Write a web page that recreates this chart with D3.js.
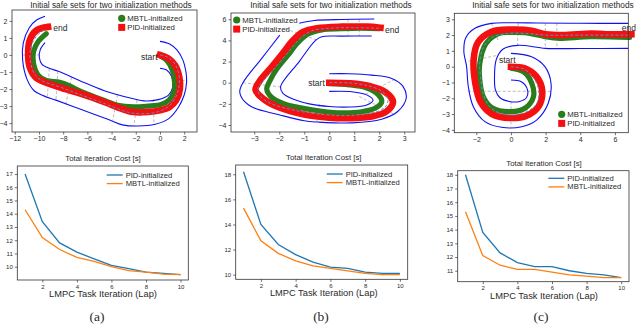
<!DOCTYPE html>
<meta charset="utf-8">
<style>
body { margin: 0; background: #fff; }
text { font-family: "Liberation Sans", Arial, sans-serif; fill: #2a2a2a; }
.cap { font-family: "Liberation Serif", "Times New Roman", serif; }
</style>
<body>
<script src="https://d3js.org/d3.v7.min.js"></script>
<script>

// ---------- track panels (data units) ----------
var aOuter = [[0,0.8],[0.8,0.65],[1.4,0.3],[1.9,-0.3],[2.15,-1.0],[2.2,-1.6],[2.0,-2.35],[1.5,-3.1],[0.7,-3.75],[-0.4,-4.07],[-1.8,-4.17],[-3.1,-4.1],[-4.2,-3.8],[-6.5,-3.2],[-8.6,-2.65],[-9.6,-2.4],[-10.4,-2.1],[-11.0,-1.4],[-11.35,-0.3],[-11.3,0.7],[-10.8,1.6],[-10.2,2.05],[-9.5,2.27]];
var aInner = [[0,-0.78],[0.55,-0.88],[0.95,-1.25],[1.08,-1.8],[0.7,-2.35],[-0.15,-2.62],[-1.2,-2.7],[-2.3,-2.55],[-3.5,-2.33],[-4.6,-2.1],[-6.5,-1.55],[-8.4,-0.95],[-9.1,-0.8],[-9.75,-0.55],[-9.97,-0.15],[-9.9,0.3],[-9.5,0.72]];
var aCenter = [[0,0],[0.7,-0.15],[1.25,-0.55],[1.55,-1.1],[1.6,-1.7],[1.35,-2.4],[0.75,-3.0],[-0.25,-3.35],[-1.5,-3.45],[-2.7,-3.35],[-3.85,-3.05],[-6.5,-2.35],[-8.6,-1.8],[-9.5,-1.6],[-10.3,-1.2],[-10.7,-0.4],[-10.65,0.5],[-10.15,1.15],[-9.5,1.5]];
var aPid = [[0,0],[0.7,-0.2],[1.25,-0.6],[1.6,-1.3],[1.65,-2.0],[1.35,-2.65],[0.8,-3.05],[0,-3.25],[-1,-3.35],[-2.2,-3.35],[-3.2,-3.15],[-4.1,-2.9],[-5.2,-2.6],[-6.9,-2.2],[-8.5,-1.85],[-9.5,-1.6],[-10.3,-1.3],[-10.75,-0.75],[-10.9,0],[-10.75,0.9],[-10.2,1.45],[-9.25,1.65]];
var aMbtl = [[0,-0.05],[0.6,-0.35],[1.0,-0.85],[1.2,-1.5],[1.15,-2.15],[0.75,-2.65],[0.1,-2.9],[-1,-3.0],[-2.2,-3.05],[-3.5,-2.95],[-4.5,-2.7],[-6.5,-2.15],[-7.5,-1.8],[-8.3,-1.6],[-9.4,-1.5],[-10.05,-1.2],[-10.45,-0.5],[-10.45,0.2],[-10.05,0.8],[-9.4,1.25]];
var aCross = [[[-11.4,0],[-9.95,0]],[[0.95,-1.5],[2.2,-1.5]],[[-9.15,-0.8],[-9.3,-2.4]],[[-8.45,-0.95],[-8.6,-2.65]],[[-7.3,-1.3],[-7.8,-2.95]],[[-3.5,-2.33],[-3.9,-3.85]],[[-1.9,-2.65],[-2.15,-4.15]],[[-0.55,-2.6],[-0.5,-4.05]]];
var aText = { start: [-1.57,-0.3], end: [-8.82,1.4] };

var bOuter1 = [[0,0.85],[0.8,0.85],[1.7,0.72],[2.5,0.4],[2.95,-0.35],[3.08,-1.45],[2.75,-2.7],[2.1,-3.45],[0.9,-3.8],[-0.45,-3.72],[-1.0,-3.6],[-2.05,-3.0],[-3.0,-2.4],[-3.4,-1.75],[-3.58,-0.85],[-3.45,0],[-2.7,2.3],[-1.98,4.5]];
var bOuter2 = [[-1.2,5.62],[-0.6,5.88],[0.5,5.98],[1.8,6.02]];
var bInner = [[0,-0.82],[0.9,-0.85],[1.5,-1.15],[1.75,-1.65],[1.5,-2.1],[0.8,-2.3],[0,-2.25],[-0.8,-2.0],[-1.45,-1.55],[-1.85,-1.0],[-1.95,-0.4],[-1.2,2.0],[-0.55,4.0],[-0.3,4.35],[0.5,4.4],[1.7,4.42]];
var bCenter = [[0,0],[0.8,-0.02],[1.5,-0.25],[2.1,-0.8],[2.35,-1.6],[2.2,-2.4],[1.6,-2.9],[0.8,-3.1],[0,-3.05],[-0.8,-2.85],[-1.6,-2.5],[-2.3,-2.0],[-2.75,-1.3],[-2.85,-0.5],[-2.6,0.3],[-2.1,1.6],[-1.6,3.0],[-1.15,4.2],[-0.7,4.9],[0,5.15],[1,5.2],[2,5.15]];
var bPid = [[0,0],[0.8,-0.05],[1.6,-0.3],[2.25,-0.9],[2.55,-1.8],[2.3,-2.7],[1.7,-3.2],[0.8,-3.35],[0,-3.3],[-1.0,-3.0],[-2.0,-2.35],[-2.65,-1.5],[-2.95,-0.7],[-2.8,0.1],[-2.3,1.5],[-1.85,2.8],[-1.45,4.0],[-1.05,4.8],[-0.5,5.15],[0.5,5.3],[1.5,5.3],[2.05,5.2]];
var bMbtl = [[0,-0.1],[0.8,-0.2],[1.5,-0.5],[1.95,-1.1],[2.1,-1.8],[1.85,-2.4],[1.3,-2.75],[0.5,-2.85],[-0.3,-2.7],[-1.2,-2.35],[-1.8,-2.0],[-2.3,-1.4],[-2.5,-0.6],[-2.35,0.3],[-2.1,1.3],[-1.65,2.6],[-1.25,3.8],[-0.85,4.6],[-0.3,5.0],[0.5,5.1],[1.3,5.15],[2.0,5.1]];
var bCross = [[[-1.75,5.1],[-0.45,4.0]],[[0.75,6.0],[0.75,4.4]],[[1.2,6.0],[1.2,4.42]],[[-3.45,0.0],[-1.95,-0.4]],[[-0.5,-3.7],[-0.4,-2.0]],[[1.2,-1.3],[2.65,-3.05]],[[1.45,-1.1],[2.6,0.3]]];
var bText = { start: [-0.84,-0.31], end: [2.23,4.7] };

var cOuter = [[0,0.84],[1.19,0.63],[1.96,0],[2.31,-1.05],[2.15,-2.32],[1.48,-3.38],[0.62,-3.8],[-0.54,-3.84],[-1.5,-3.48],[-2.17,-2.53],[-2.46,-1.27],[-2.56,0],[-2.72,1.0],[-2.6,1.85],[-2.08,2.43],[-1.12,2.74],[0,2.78],[1.5,2.77],[4,2.75],[6.77,2.74]];
var cInner = [[0,-0.84],[0.6,-0.95],[0.95,-1.45],[0.9,-1.95],[0.5,-2.2],[-0.1,-2.2],[-0.65,-1.95],[-0.9,-1.45],[-0.95,-0.7],[-0.85,0.45],[-0.45,1.12],[0.4,1.35],[2,1.16],[4,1.15],[6.77,1.16]];
var cCenter = [[0,0],[0.75,-0.15],[1.3,-0.7],[1.6,-1.5],[1.5,-2.3],[1.0,-2.8],[0.2,-3.05],[-0.6,-2.95],[-1.25,-2.5],[-1.6,-1.7],[-1.75,-0.7],[-1.8,0.3],[-1.6,1.2],[-1.1,1.85],[-0.2,2.1],[1.0,2.1],[2,2.0],[4,2.0],[6.8,2.0]];
var cPid = [[0,0],[0.8,-0.1],[1.45,-0.6],[1.8,-1.5],[1.6,-2.5],[0.9,-3.1],[0,-3.25],[-1.1,-3.0],[-1.75,-2.25],[-2.05,-1.1],[-2.15,0.5],[-1.9,1.55],[-1.15,2.2],[0,2.35],[1.2,2.28],[2,2.05],[3,2.0],[4.65,2.1],[5.5,2.05],[6.95,2.05]];
var cMbtl = [[0,-0.1],[0.75,-0.35],[1.2,-1.05],[1.3,-1.9],[0.85,-2.6],[0,-2.85],[-1.1,-2.6],[-1.6,-1.9],[-1.8,-0.85],[-1.8,0.2],[-1.45,1.45],[-0.75,2.08],[0,2.17],[0.8,2.15],[2,1.9],[2.7,1.8],[4.6,1.9],[6.85,1.85]];
var cCross = [[[-2.5,-1.56],[2.35,-1.56]],[[0,-2.2],[0,-3.84]],[[1.98,2.76],[1.98,1.16]],[[2.65,2.75],[2.65,1.15]],[[-1.12,2.74],[-0.72,1.6]],[[-2.45,0.35],[-0.85,0.7]],[[0.42,2.77],[0.38,1.35]]];
var cText = { start: [-0.69,0.23], end: [6.39,2.26] };

// ---------- iteration cost panels ----------
var laps = [1,2,3,4,5,6,7,8,9,10];
var aPidCost  = [17.0,13.4,11.8,11.1,10.6,10.1,9.85,9.6,9.5,9.4];
var aMbtlCost = [14.3,12.2,11.3,10.7,10.4,10.0,9.7,9.6,9.45,9.4];
var bPidCost  = [18.2,14.0,12.4,11.6,11.0,10.6,10.5,10.2,10.1,10.1];
var bMbtlCost = [15.3,12.7,11.7,11.1,10.7,10.5,10.3,10.1,10.0,10.0];
var cPidCost  = [18.0,13.8,12.3,11.6,11.3,11.3,11.0,10.8,10.7,10.5];
var cMbtlCost = [15.3,12.1,11.4,11.1,11.1,10.9,10.7,10.6,10.5,10.5];

var trackTitle = "Initial safe sets for two initialization methods";
var costTitle = "Total Iteration Cost [s]";
var costXLabel = "LMPC Task Iteration (Lap)";
var legendTrack = ["MBTL-initialized", "PID-initialized"];
var legendCost = ["PID-initialized", "MBTL-initialized"];
var captions = ["(a)", "(b)", "(c)"];

var svg = d3.select("body").append("svg")
    .attr("width", 640)
    .attr("height", 325);

function frame(g, l, r, t, b) {
  g.append("rect")
      .attr("x", l).attr("y", t)
      .attr("width", r - l).attr("height", b - t)
      .attr("fill", "none")
      .attr("stroke", "#333")
      .attr("stroke-width", 0.8);
}

function styleAxis(ax, fs) {
  ax.select(".domain").remove();
  ax.selectAll(".tick line").attr("stroke", "#333").attr("stroke-width", 0.7);
  ax.selectAll(".tick text").attr("font-size", fs).attr("fill", "#2a2a2a");
}

function trackPanel(o) {
  var x = d3.scaleLinear().domain(o.xd).range([o.l, o.r]);
  var y = d3.scaleLinear().domain(o.yd).range([o.b, o.t]);
  var g = svg.append("g");
  var smooth = d3.line()
      .x(function(d) { return x(d[0]); })
      .y(function(d) { return y(d[1]); })
      .curve(d3.curveCatmullRom.alpha(0.5));
  var straight = d3.line()
      .x(function(d) { return x(d[0]); })
      .y(function(d) { return y(d[1]); });

  o.cross.forEach(function(c) {
    g.append("path").attr("d", straight(c))
        .attr("fill", "none").attr("stroke", "#aaa")
        .attr("stroke-width", 0.8).attr("stroke-dasharray", "3,2");
  });
  o.bounds.forEach(function(b) {
    g.append("path").attr("d", smooth(b))
        .attr("fill", "none").attr("stroke", "#1010f0").attr("stroke-width", 1.1);
  });
  g.append("path").attr("d", smooth(o.mbtl))
      .attr("fill", "none").attr("stroke", "#2a7d1c")
      .attr("stroke-width", 5.2).attr("stroke-linecap", "round").attr("stroke-linejoin", "round");
  g.append("path").attr("d", smooth(o.pid))
      .attr("fill", "none").attr("stroke", "#f41010")
      .attr("stroke-width", 6.6).attr("stroke-linecap", "square").attr("stroke-linejoin", "round");
  g.append("path").attr("d", smooth(o.center))
      .attr("fill", "none").attr("stroke", "#5f8fc4")
      .attr("stroke-width", 1).attr("stroke-dasharray", "3,2");

  g.append("text").attr("x", x(o.text.start[0])).attr("y", y(o.text.start[1]))
      .attr("font-size", 8.5).text("start");
  g.append("text").attr("x", x(o.text.end[0])).attr("y", y(o.text.end[1]))
      .attr("font-size", 8.5).text("end");

  var ax = g.append("g").attr("transform", "translate(0," + o.b + ")")
      .call(d3.axisBottom(x).tickValues(o.xt).tickSize(2.5).tickPadding(2));
  styleAxis(ax, 7);
  var ay = g.append("g").attr("transform", "translate(" + o.l + ",0)")
      .call(d3.axisLeft(y).tickValues(o.yt).tickSize(2.5).tickPadding(2));
  styleAxis(ay, 7);
  frame(g, o.l, o.r, o.t, o.b);

  g.append("text").attr("x", o.tx).attr("y", 8)
      .attr("text-anchor", "middle").attr("font-size", 8.3).text(trackTitle);

  // legend: green circle, red square
  var lg = g.append("g").attr("transform", "translate(" + o.leg[0] + "," + o.leg[1] + ")");
  lg.append("circle").attr("cx", 0).attr("cy", 0).attr("r", 3.6).attr("fill", "#2a7d1c");
  lg.append("rect").attr("x", -3.5).attr("y", 5.6).attr("width", 7).attr("height", 7).attr("fill", "#f41010");
  lg.append("text").attr("x", 5.5).attr("y", 3).attr("font-size", 7.8).text(legendTrack[0]);
  lg.append("text").attr("x", 5.5).attr("y", 12).attr("font-size", 7.8).text(legendTrack[1]);
}

function costPanel(o) {
  var x = d3.scaleLinear().domain([0.55, 10.45]).range([o.l, o.r]);
  var y = d3.scaleLinear().domain(o.yd).range([o.b, o.t]);
  var g = svg.append("g");
  var line = d3.line()
      .x(function(d, i) { return x(laps[i]); })
      .y(function(d) { return y(d); });

  g.append("path").attr("d", line(o.pid))
      .attr("fill", "none").attr("stroke", "#1f77b4").attr("stroke-width", 1.3);
  g.append("path").attr("d", line(o.mbtl))
      .attr("fill", "none").attr("stroke", "#ff7f0e").attr("stroke-width", 1.3);

  var ax = g.append("g").attr("transform", "translate(0," + o.b + ")")
      .call(d3.axisBottom(x).tickValues([2,4,6,8,10]).tickSize(2.5).tickPadding(2));
  styleAxis(ax, 6);
  var ay = g.append("g").attr("transform", "translate(" + o.l + ",0)")
      .call(d3.axisLeft(y).tickValues(o.yt).tickSize(2.5).tickPadding(2));
  styleAxis(ay, 6);
  frame(g, o.l, o.r, o.t, o.b);

  g.append("text").attr("x", o.cx).attr("y", o.t - 5)
      .attr("text-anchor", "middle").attr("font-size", 7.8).text(costTitle);
  g.append("text").attr("x", o.cx).attr("y", o.b + 17)
      .attr("text-anchor", "middle").attr("font-size", 9.3).text(costXLabel);
  g.append("text").attr("class", "cap").attr("x", o.capx).attr("y", 321)
      .attr("text-anchor", "middle").attr("font-size", 13.5).text(o.cap);

  var lg = g.append("g").attr("transform", "translate(" + o.leg[0] + "," + o.leg[1] + ")");
  [["#1f77b4", legendCost[0]], ["#ff7f0e", legendCost[1]]].forEach(function(e, i) {
    lg.append("line").attr("x1", 0).attr("x2", 16).attr("y1", i * 8.6).attr("y2", i * 8.6)
        .attr("stroke", e[0]).attr("stroke-width", 1.3);
    lg.append("text").attr("x", 19).attr("y", i * 8.6 + 2.6).attr("font-size", 7.6).text(e[1]);
  });
}

trackPanel({ l: 12, r: 197, t: 10, b: 132, xd: [-12.23, 3.06], yd: [-4.52, 2.64],
  xt: [-12,-10,-8,-6,-4,-2,0,2], yt: [-4,-3,-2,-1,0,1,2], tx: 111, leg: [121.7, 18.3],
  bounds: [aOuter, aInner], center: aCenter, pid: aPid, mbtl: aMbtl, cross: aCross, text: aText });
trackPanel({ l: 231, r: 415, t: 13, b: 132, xd: [-3.93, 3.43], yd: [-4.66, 6.59],
  xt: [-3,-2,-1,0,1,2,3], yt: [-4,-2,0,2,4,6], tx: 331, leg: [236.7, 20],
  bounds: [bOuter1, bOuter2, bInner], center: bCenter, pid: bPid, mbtl: bMbtl, cross: bCross, text: bText });
trackPanel({ l: 454.3, r: 628.3, t: 13.3, b: 132.7, xd: [-3.27, 6.77], yd: [-4.18, 3.38],
  xt: [-2,0,2,4,6], yt: [-4,-3,-2,-1,0,1,2,3], tx: 553, leg: [561.7, 114.3],
  bounds: [cOuter, cInner], center: cCenter, pid: cPid, mbtl: cMbtl, cross: cCross, text: cText });

costPanel({ l: 17.3, r: 188.3, t: 166, b: 280, yd: [9.0, 17.6], yt: [10,11,12,13,14,15,16,17],
  pid: aPidCost, mbtl: aMbtlCost, cx: 103, capx: 97, cap: captions[0], leg: [106.7, 175] });
costPanel({ l: 235.7, r: 407.7, t: 165, b: 279.3, yd: [9.63, 18.74], yt: [10,12,14,16,18],
  pid: bPidCost, mbtl: bMbtlCost, cx: 323.8, capx: 321, cap: captions[1], leg: [326.7, 174] });
costPanel({ l: 457.7, r: 629, t: 170.7, b: 281.7, yd: [10.2, 18.3], yt: [11,12,13,14,15,16,17,18],
  pid: cPidCost, mbtl: cMbtlCost, cx: 544, capx: 541, cap: captions[2], leg: [548.3, 178.3] });

</script>
</body>
